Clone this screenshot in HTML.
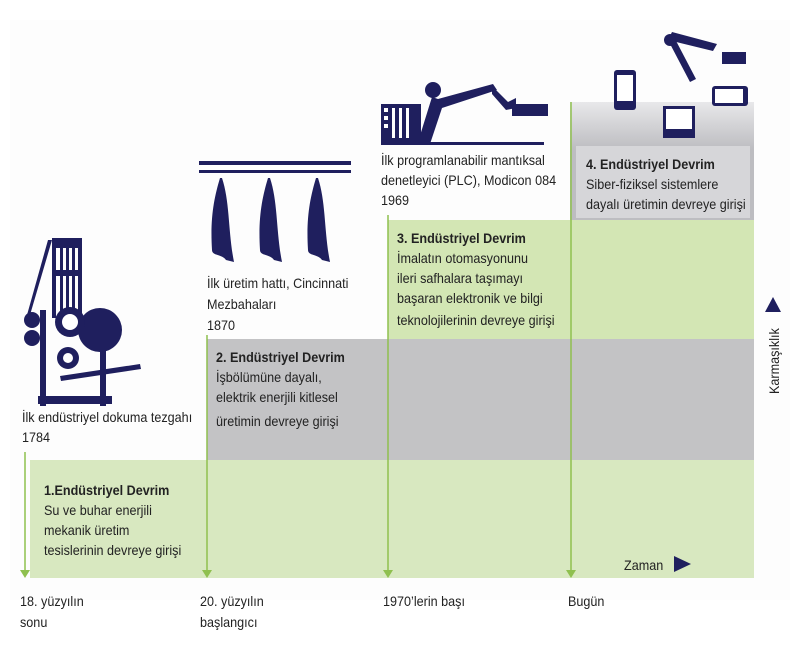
<!DOCTYPE html>
<html><head><meta charset="utf-8"><style>
body{margin:0;width:798px;height:663px;background:#fff;position:relative;overflow:hidden;font-family:"Liberation Sans Narrow","Liberation Sans",sans-serif;color:#222;}
.t{position:absolute;font-size:14px;line-height:20px;white-space:nowrap;transform:scaleX(0.9);transform-origin:left top;}
.b{font-weight:bold;}
.r{position:absolute;}
</style></head><body>
<div class="r" style="left:10px;top:20px;width:780px;height:580px;background:#fdfdfd"></div>
<div class="r" style="left:30px;top:460px;width:724px;height:118px;background:#d8e8c0"></div>
<div class="r" style="left:207px;top:339px;width:547px;height:121px;background:#c3c3c5"></div>
<div class="r" style="left:388px;top:220px;width:366px;height:119px;background:#d3e6b4"></div>
<div class="r" style="left:570px;top:102px;width:184px;height:118px;background:linear-gradient(#e8e8ea,#bdbdc1 40%,#bdbdc1)"></div>
<div class="r" style="left:576px;top:146px;width:174px;height:72px;background:#d6d6d9"></div>
<svg class="r" style="left:0;top:0" width="798" height="663">
<g stroke="#8fc04f" stroke-width="1.5">
<line x1="25" y1="452" x2="25" y2="574"/><line x1="207" y1="335" x2="207" y2="574"/>
<line x1="388" y1="215" x2="388" y2="574"/><line x1="571" y1="102" x2="571" y2="574"/>
</g>
<g fill="#8fc04f"><path d="M20 570h10l-5 8z"/><path d="M202 570h10l-5 8z"/><path d="M383 570h10l-5 8z"/><path d="M566 570h10l-5 8z"/></g>
<g fill="#1f1f5e">
<path d="M674 556l17 8-17 8z"/><path d="M765 312l8-15 8 15z"/>
<rect x="52" y="238" width="30" height="10"/><rect x="52" y="248" width="4" height="70"/><rect x="60" y="248" width="3" height="70"/><rect x="66" y="248" width="3" height="70"/><rect x="72" y="248" width="3" height="70"/><rect x="78" y="248" width="4" height="70"/>
<rect x="52" y="270" width="30" height="6"/><path d="M48 240l4 0-22 75-3 0z"/>
<circle cx="32" cy="320" r="8"/><circle cx="32" cy="338" r="8"/>
<circle cx="100" cy="330" r="22"/><circle cx="70" cy="322" r="15"/><circle cx="68" cy="358" r="11"/>
<rect x="40" y="310" width="6" height="96"/><rect x="100" y="330" width="6" height="76"/><rect x="38" y="396" width="74" height="8"/>
<path d="M60 376l80-12 1 5-80 12z"/>
<rect x="199" y="161" width="152" height="4"/><rect x="199" y="170" width="152" height="3"/>
<path d="M220 178c-6 20-10 40-8 72 0 6 10 4 14 10l8 2c-6-30-4-60-12-84z"/>
<path d="M268 178c-6 20-10 40-8 72 0 6 10 4 14 10l8 2c-6-30-4-60-12-84z"/>
<path d="M316 178c-6 20-10 40-8 72 0 6 10 4 14 10l8 2c-6-30-4-60-12-84z"/>
<rect x="381" y="104" width="40" height="38"/><rect x="381" y="142" width="163" height="3"/>
<path d="M418 142l14-45 6 2 55 -15 4 6-55 18-12 36z"/><circle cx="433" cy="90" r="8"/>
<path d="M492 86l16 16 8-4 0 10-10 2-14-16z"/><rect x="512" y="104" width="36" height="12"/>
<rect x="614" y="70" width="22" height="40" rx="3"/><rect x="663" y="106" width="32" height="32"/><rect x="712" y="86" width="36" height="20" rx="3"/>
<path d="M668 40l4-8 45 12 -4 7z"/><path d="M668 40l22 42 6-3-22-42z"/><circle cx="670" cy="40" r="6"/><rect x="722" y="52" width="24" height="12"/>
</g>
<g fill="#fff"><rect x="617" y="75" width="16" height="26"/><rect x="666" y="109" width="26" height="20"/><rect x="715" y="89" width="28" height="14"/>
<rect x="384" y="108" width="4" height="4"/><rect x="384" y="116" width="4" height="4"/><rect x="384" y="124" width="4" height="4"/><rect x="392" y="108" width="3" height="30"/><rect x="399" y="108" width="3" height="30"/><rect x="406" y="108" width="3" height="30"/>
<circle cx="70" cy="322" r="8"/><circle cx="68" cy="358" r="5"/></g>
</svg>
<div class="t" style="left:22px;top:407px">İlk endüstriyel dokuma tezgahı<br>1784</div>
<div class="t" style="left:44px;top:480px"><span class="b">1.Endüstriyel Devrim</span><br>Su ve buhar enerjili<br>mekanik üretim<br>tesislerinin devreye girişi</div>
<div class="t" style="left:207px;top:273px;line-height:21px">İlk üretim hattı, Cincinnati<br>Mezbahaları<br>1870</div>
<div class="t" style="left:216px;top:347px"><span class="b">2. Endüstriyel Devrim</span><br>İşbölümüne dayalı,<br>elektrik enerjili kitlesel<br><span style="position:relative;top:4px">üretimin devreye girişi</span></div>
<div class="t" style="left:381px;top:150px">İlk programlanabilir mantıksal<br>denetleyici (PLC), Modicon 084<br>1969</div>
<div class="t" style="left:397px;top:228px"><span class="b">3. Endüstriyel Devrim</span><br>İmalatın otomasyonunu<br>ileri safhalara taşımayı<br>başaran elektronik ve bilgi<br><span style="position:relative;top:2px">teknolojilerinin devreye girişi</span></div>
<div class="t" style="left:586px;top:154px"><span class="b">4. Endüstriyel Devrim</span><br>Siber-fiziksel sistemlere<br>dayalı üretimin devreye girişi</div>
<div class="t" style="left:624px;top:555px">Zaman</div>
<div class="t" style="left:764px;top:394px;transform:rotate(-90deg) scaleX(0.9);transform-origin:left top">Karmaşıklık</div>
<div class="t" style="left:20px;top:591px;line-height:21px">18. yüzyılın<br>sonu</div>
<div class="t" style="left:200px;top:591px;line-height:21px">20. yüzyılın<br>başlangıcı</div>
<div class="t" style="left:383px;top:591px">1970’lerin başı</div>
<div class="t" style="left:568px;top:591px">Bugün</div>
</body></html>
